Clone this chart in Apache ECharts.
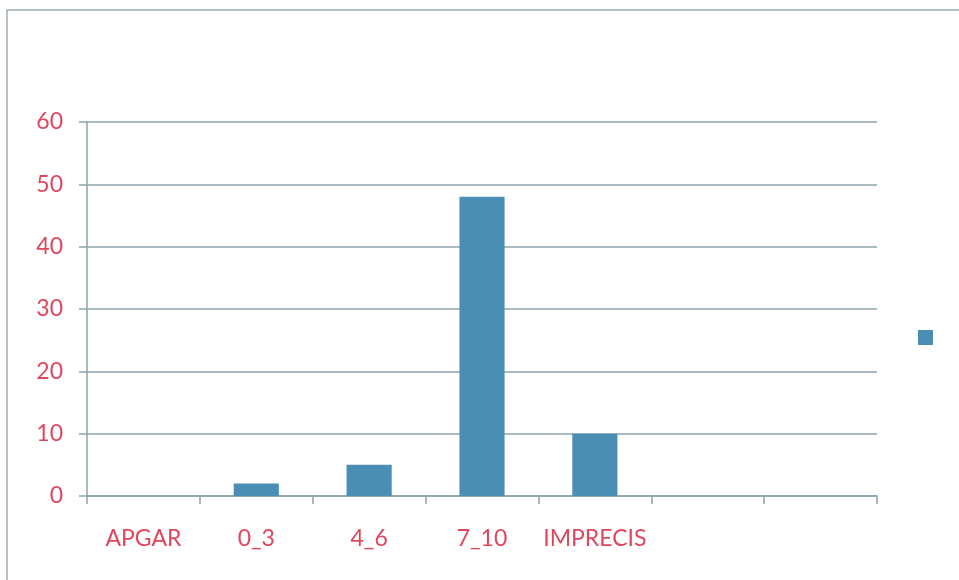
<!DOCTYPE html>
<html>
<head>
<meta charset="utf-8">
<script src="https://cdn.jsdelivr.net/npm/echarts@6/dist/echarts.min.js"></script>
<style>
  html, body { margin: 0; padding: 0; background: #fff; }
  #chart { width: 959px; height: 580px; }
</style>
</head>
<body>
<div id="chart"></div>
<script>
// APGAR score groups and counts
const categories = ['APGAR', '0_3', '4_6', '7_10', 'IMPRECIS', '', ''];
const counts = [0, 2, 5, 48, 10, null, null];
const yTicks = { min: 0, max: 60, step: 10 };
const seriesName = 'Effectif';

const labelRed = '#e0475e';
const lineGrey = '#8fa3ab';
const barBlue = '#4b8eb3';
const font = 'Lato, "Open Sans", sans-serif';

const chart = echarts.init(document.getElementById('chart'), null, { renderer: 'canvas' });

chart.setOption({
  backgroundColor: '#ffffff',
  animation: false,
  graphic: [{
    type: 'rect',
    shape: { x: 7, y: 10, width: 1000, height: 620 },
    style: { fill: null, stroke: '#9eafb4', lineWidth: 1.5 },
    silent: true
  }],
  grid: { left: 87, right: 82, top: 122, bottom: 84, containLabel: false },
  legend: {
    data: [seriesName],
    left: 913,
    top: 325,
    itemWidth: 15,
    itemHeight: 15,
    icon: 'rect',
    formatter: () => '',
    textStyle: { fontSize: 1 },
    selectedMode: false
  },
  xAxis: {
    type: 'category',
    data: categories,
    boundaryGap: true,
    axisLine: { show: true, lineStyle: { color: lineGrey, width: 1.5 } },
    axisTick: { show: true, length: 8, alignWithLabel: false, interval: 0, lineStyle: { color: lineGrey, width: 1.5 } },
    axisLabel: { interval: 0, color: labelRed, fontFamily: font, fontSize: 23, margin: 31 },
    splitLine: { show: false }
  },
  yAxis: {
    type: 'value',
    min: yTicks.min,
    max: yTicks.max,
    interval: yTicks.step,
    axisLine: { show: true, lineStyle: { color: lineGrey, width: 1.5 } },
    axisTick: { show: true, length: 8, lineStyle: { color: lineGrey, width: 1.5 } },
    axisLabel: { color: labelRed, fontFamily: font, fontSize: 23, margin: 24 },
    splitLine: { show: true, lineStyle: { color: lineGrey, width: 1.5 } }
  },
  series: [{
    name: seriesName,
    type: 'bar',
    data: counts,
    barWidth: '40%',
    itemStyle: { color: barBlue }
  }]
});
</script>
</body>
</html>
